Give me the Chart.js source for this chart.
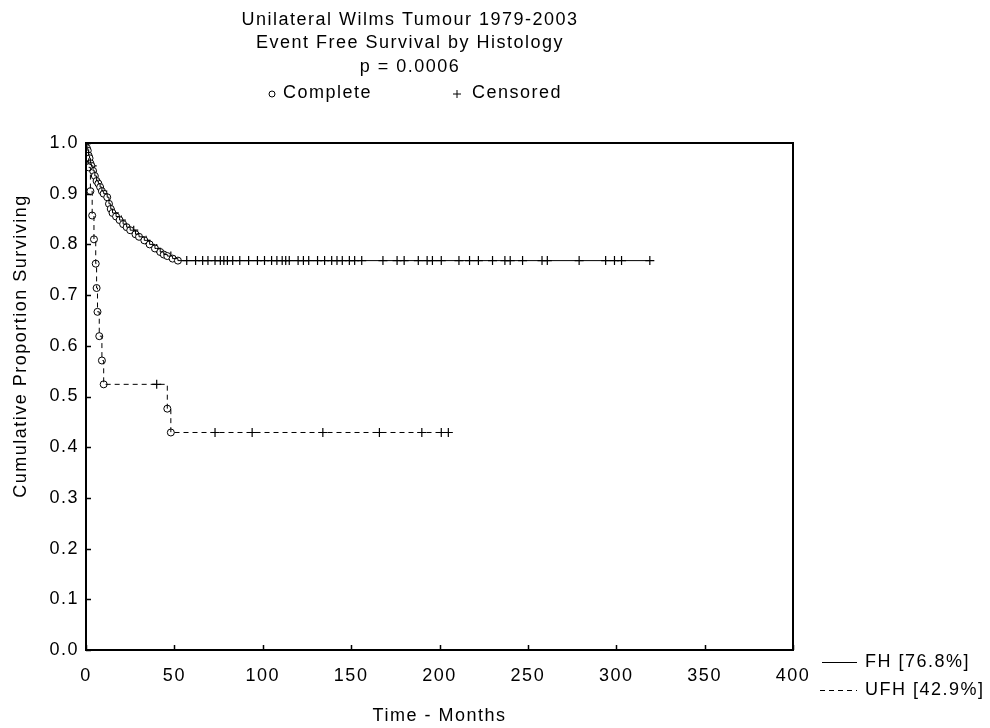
<!DOCTYPE html>
<html>
<head>
<meta charset="utf-8">
<script src="https://cdn.jsdelivr.net/npm/chart.js@4.4.1/dist/chart.umd.min.js"></script>
<style>
  html, body { margin: 0; padding: 0; background: #fff; }
  #wrap { width: 990px; height: 728px; }
</style>
</head>
<body>
<div id="wrap"><canvas id="km"></canvas></div>
<script>
// ─── DATA ───
const titleLines = ['Unilateral Wilms Tumour 1979-2003', 'Event Free Survival by Histology', 'p = 0.0006'];
const markerLabels = ['Complete', 'Censored'];
const groupLabels = ['FH [76.8%]', 'UFH [42.9%]'];
const xTickValues = [0, 50, 100, 150, 200, 250, 300, 350, 400];
const yTickValues = [0, 0.1, 0.2, 0.3, 0.4, 0.5, 0.6, 0.7, 0.8, 0.9, 1.0];

// FH: event (complete) times in months and survival after each event
const fhEventMonths = [0.5, 1, 1.5, 2, 2.5, 3, 4, 5, 6, 7, 8, 9, 10, 12, 13, 14, 15, 17, 19, 21, 23, 25, 28, 30, 33, 36, 39, 42, 44, 46, 49, 52];
const fhEventSurvival = [0.99, 0.985, 0.975, 0.97, 0.96, 0.955, 0.945, 0.935, 0.925, 0.92, 0.913, 0.905, 0.9, 0.893, 0.88, 0.87, 0.862, 0.855, 0.848, 0.84, 0.834, 0.828, 0.82, 0.815, 0.808, 0.8, 0.792, 0.785, 0.78, 0.777, 0.772, 0.768];
const fhCensorMonths = [3.5, 9.5, 16, 20, 27, 34, 40, 48, 57, 62, 66, 69, 73, 76, 78, 80, 83, 87, 92, 97, 101, 105, 108, 111, 113, 115, 120, 123, 126, 131, 135, 139, 142, 145, 149, 152, 156, 168, 176, 180, 188, 193, 196, 201, 211, 217, 222, 230, 237, 240, 247, 258, 261, 279, 294, 299, 303, 319];

// UFH
const ufhEventMonths = [1.5, 2.5, 3.5, 4.5, 5.5, 6, 6.5, 7.5, 9, 10, 46, 48];
const ufhEventSurvival = [0.952, 0.905, 0.857, 0.81, 0.762, 0.714, 0.667, 0.619, 0.571, 0.524, 0.476, 0.429];
const ufhCensorMonths = [40, 73, 94, 134, 166, 190, 201, 205];

// ─── HELPERS ───
const FONT = '"Liberation Sans", Arial, sans-serif';
const FS = 18;

function survivalAt(evT, evS, t) {
  let s = 1;
  evT.forEach((e, i) => { if (e <= t) s = evS[i]; });
  return s;
}

// step curve points: start at (0,1), then events and censors in time order
function kmLine(evT, evS, cenT) {
  const pts = evT.map((t, i) => ({ x: t, y: evS[i] }))
    .concat(cenT.map(t => ({ x: t, y: survivalAt(evT, evS, t) })));
  pts.sort((a, b) => a.x - b.x);
  return [{ x: 0, y: 1 }].concat(pts);
}

const eventPoints = fhEventMonths.map((t, i) => ({ x: t, y: fhEventSurvival[i] }))
  .concat(ufhEventMonths.map((t, i) => ({ x: t, y: ufhEventSurvival[i] })));
const censorPoints = fhCensorMonths.map(t => ({ x: t, y: survivalAt(fhEventMonths, fhEventSurvival, t) }))
  .concat(ufhCensorMonths.map(t => ({ x: t, y: survivalAt(ufhEventMonths, ufhEventSurvival, t) })));

// ─── FRAME, INWARD TICKS AND TEXT ───
const statPlot = {
  id: 'statPlot',
  beforeDraw(chart) {
    const ctx = chart.ctx;
    ctx.save();
    ctx.fillStyle = '#fff';
    ctx.fillRect(0, 0, chart.width, chart.height);
    ctx.restore();
    ctx.letterSpacing = '1.5px';
  },
  afterDraw(chart) {
    const ctx = chart.ctx;
    const { left, right, top, bottom } = chart.chartArea;
    const sx = chart.scales.x, sy = chart.scales.y;
    ctx.save();
    ctx.strokeStyle = '#000';
    ctx.fillStyle = '#000';
    ctx.lineWidth = 2;
    ctx.strokeRect(left, top, right - left, bottom - top);

    ctx.lineWidth = 1.5;
    ctx.beginPath();
    xTickValues.forEach(v => {
      const px = Math.round(sx.getPixelForValue(v)) + 0.5;
      ctx.moveTo(px, bottom); ctx.lineTo(px, bottom - 5);
    });
    yTickValues.forEach(v => {
      const py = Math.round(sy.getPixelForValue(v)) + 0.5;
      ctx.moveTo(left, py); ctx.lineTo(left + 5, py);
    });
    ctx.stroke();

    ctx.font = FS + 'px ' + FONT;
    ctx.textBaseline = 'middle';
    ctx.letterSpacing = '1.5px';

    // title block
    ctx.textAlign = 'center';
    titleLines.forEach((t, i) => ctx.fillText(t, 410, 20 + i * 23.5));

    // marker legend
    ctx.lineWidth = 1;
    ctx.fillStyle = '#fff';
    Chart.helpers.drawPoint(ctx, { pointStyle: 'circle', radius: 3, borderWidth: 1 }, 272, 94);
    Chart.helpers.drawPoint(ctx, { pointStyle: 'cross', radius: 4, borderWidth: 1.2 }, 457, 94);
    ctx.fillStyle = '#000';
    ctx.textAlign = 'left';
    ctx.fillText(markerLabels[0], 283, 93);
    ctx.fillText(markerLabels[1], 472, 93);

    // group legend (bottom right)
    ctx.lineWidth = 1;
    ctx.beginPath(); ctx.moveTo(822, 662.5); ctx.lineTo(857, 662.5); ctx.stroke();
    ctx.setLineDash([5, 4]);
    ctx.beginPath(); ctx.moveTo(820, 690.5); ctx.lineTo(857, 690.5); ctx.stroke();
    ctx.setLineDash([]);
    ctx.fillText(groupLabels[0], 865, 662);
    ctx.fillText(groupLabels[1], 865, 690);

    // y axis title
    ctx.translate(21, 346);
    ctx.rotate(-Math.PI / 2);
    ctx.textAlign = 'center';
    ctx.fillText('Cumulative Proportion Surviving', 0, 0);
    ctx.restore();
  }
};

new Chart(document.getElementById('km'), {
  type: 'line',
  data: {
    datasets: [
      { label: 'FH', data: kmLine(fhEventMonths, fhEventSurvival, fhCensorMonths),
        stepped: true, borderColor: '#000', borderWidth: 1, pointRadius: 0, fill: false },
      { label: 'UFH', data: kmLine(ufhEventMonths, ufhEventSurvival, ufhCensorMonths),
        stepped: true, borderColor: '#000', borderWidth: 1, borderDash: [5, 4], pointRadius: 0, fill: false },
      { label: markerLabels[0], data: eventPoints, showLine: false,
        pointStyle: 'circle', pointRadius: 3.5, pointBackgroundColor: '#fff',
        pointBorderColor: '#000', pointBorderWidth: 1 },
      { label: markerLabels[1], data: censorPoints, showLine: false,
        pointStyle: 'cross', pointRadius: 4.5, pointBorderColor: '#000', pointBorderWidth: 1.2 },
    ],
  },
  options: {
    responsive: true, maintainAspectRatio: false,
    animation: false,
    events: [],
    layout: { padding: { left: 0, right: 197, top: 143, bottom: 0 } },
    plugins: { legend: { display: false }, title: { display: false }, tooltip: { enabled: false } },
    scales: {
      x: {
        type: 'linear', min: 0, max: 400,
        afterBuildTicks: s => { s.ticks = xTickValues.map(v => ({ value: v })); },
        afterFit: s => { s.height = 78; },
        grid: { display: false, drawTicks: false }, border: { display: false },
        ticks: { color: '#000', font: { family: FONT, size: FS }, padding: 15, maxRotation: 0 },
        title: { display: true, text: 'Time - Months', color: '#000',
          font: { family: FONT, size: FS }, padding: { top: 0, bottom: 1 } },
      },
      y: {
        min: 0, max: 1,
        afterBuildTicks: s => { s.ticks = yTickValues.map(v => ({ value: v })); },
        afterFit: s => { s.width = 86; },
        grid: { display: false, drawTicks: false }, border: { display: false },
        ticks: { color: '#000', font: { family: FONT, size: FS }, padding: 7,
          callback: v => v.toFixed(1) },
      },
    },
  },
  plugins: [statPlot],
});
</script>
</body>
</html>
